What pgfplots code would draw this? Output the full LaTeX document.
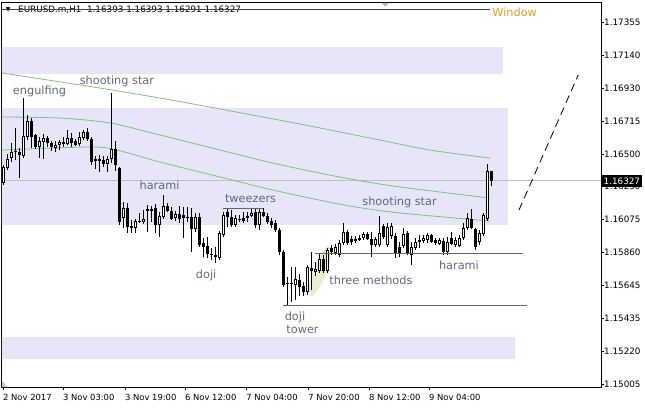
\documentclass[border=0pt]{standalone}
\usepackage{pgfplots}
\pgfplotsset{compat=1.18}
\usepackage{pgfplotstable}
\usepackage{fontspec}
\setmainfont{DejaVu Sans}
\usetikzlibrary{shapes.geometric}

\definecolor{zone}{RGB}{230,230,248}
\definecolor{ma}{RGB}{128,192,128}
\definecolor{lbl}{RGB}{96,104,122}
\definecolor{winline}{RGB}{40,80,72}
\definecolor{wintext}{RGB}{218,160,32}
\definecolor{pline}{RGB}{192,192,192}
\definecolor{lvl}{RGB}{100,100,100}
\definecolor{hilite}{RGB}{232,238,206}

% H1 candles, x = bar index
\pgfplotstableread{
x o h l c
0 1.16313 1.16430 1.16300 1.16417
1 1.16410 1.16501 1.16397 1.16469
2 1.16475 1.16573 1.16449 1.16514
3 1.16521 1.16670 1.16462 1.16514
4 1.16514 1.16540 1.16345 1.16495
5 1.16488 1.16865 1.16475 1.16618
6 1.16612 1.16755 1.16592 1.16716
7 1.16716 1.16735 1.16540 1.16612
8 1.16625 1.16631 1.16534 1.16547
9 1.16547 1.16612 1.16475 1.16586
10 1.16579 1.16631 1.16469 1.16605
11 1.16605 1.16618 1.16547 1.16573
12 1.16573 1.16586 1.16521 1.16547
13 1.16540 1.16586 1.16514 1.16560
14 1.16560 1.16592 1.16527 1.16579
15 1.16579 1.16612 1.16547 1.16566
16 1.16566 1.16657 1.16560 1.16605
17 1.16605 1.16638 1.16547 1.16573
18 1.16586 1.16599 1.16553 1.16560
19 1.16566 1.16644 1.16553 1.16612
20 1.16605 1.16657 1.16592 1.16644
21 1.16644 1.16670 1.16586 1.16599
22 1.16599 1.16612 1.16430 1.16449
23 1.16456 1.16488 1.16404 1.16469
24 1.16469 1.16495 1.16384 1.16456
25 1.16462 1.16488 1.16417 1.16436
26 1.16436 1.16488 1.16384 1.16469
27 1.16469 1.16898 1.16443 1.16534
28 1.16534 1.16586 1.16391 1.16430
29 1.16410 1.16417 1.16040 1.16059
30 1.16085 1.16189 1.16020 1.16150
31 1.16150 1.16183 1.15988 1.16027
32 1.16033 1.16072 1.15988 1.16020
33 1.16020 1.16079 1.15988 1.16066
34 1.16066 1.16118 1.16053 1.16059
35 1.16059 1.16137 1.16046 1.16079
36 1.16144 1.16170 1.15994 1.16131
37 1.16144 1.16163 1.16059 1.16131
38 1.16150 1.16176 1.15988 1.16040
39 1.16040 1.16124 1.15962 1.16098
40 1.16092 1.16235 1.16079 1.16163
41 1.16163 1.16183 1.16124 1.16131
42 1.16131 1.16157 1.16072 1.16079
43 1.16085 1.16131 1.16066 1.16111
44 1.16111 1.16163 1.16053 1.16079
45 1.16105 1.16157 1.15955 1.16085
46 1.16092 1.16157 1.16059 1.16085
47 1.16092 1.16150 1.15864 1.16014
48 1.16014 1.16118 1.15994 1.16092
49 1.16092 1.16118 1.15897 1.15910
50 1.15923 1.15955 1.15832 1.15897
51 1.15903 1.15962 1.15825 1.15851
52 1.15851 1.15890 1.15812 1.15845
53 1.15845 1.15897 1.15793 1.15832
54 1.15825 1.16001 1.15812 1.15988
55 1.15975 1.16124 1.15962 1.16105
56 1.16124 1.16150 1.16027 1.16092
57 1.16092 1.16137 1.16027 1.16040
58 1.16040 1.16105 1.16027 1.16085
59 1.16079 1.16105 1.16059 1.16072
60 1.16085 1.16124 1.16053 1.16066
61 1.16085 1.16124 1.16059 1.16098
62 1.16098 1.16150 1.16092 1.16118
63 1.16124 1.16150 1.16020 1.16040
64 1.16040 1.16150 1.16007 1.16124
65 1.16124 1.16150 1.16092 1.16098
66 1.16098 1.16118 1.16046 1.16059
67 1.16066 1.16085 1.16020 1.16040
68 1.16053 1.16072 1.15994 1.16007
69 1.16007 1.16020 1.15845 1.15864
70 1.15864 1.15877 1.15637 1.15650
71 1.15663 1.15702 1.15520 1.15656
72 1.15656 1.15767 1.15539 1.15663
73 1.15650 1.15767 1.15552 1.15689
74 1.15682 1.15721 1.15578 1.15637
75 1.15643 1.15669 1.15578 1.15604
76 1.15604 1.15780 1.15585 1.15767
77 1.15760 1.15864 1.15617 1.15741
78 1.15734 1.15799 1.15708 1.15754
79 1.15741 1.15858 1.15728 1.15819
80 1.15819 1.15845 1.15728 1.15741
81 1.15741 1.15890 1.15728 1.15877
82 1.15890 1.15910 1.15845 1.15864
83 1.15858 1.15916 1.15845 1.15897
84 1.15845 1.15942 1.15832 1.15923
85 1.15923 1.16053 1.15910 1.15994
86 1.15994 1.16007 1.15910 1.15923
87 1.15949 1.15968 1.15910 1.15929
88 1.15949 1.15968 1.15923 1.15936
89 1.15942 1.15975 1.15936 1.15955
90 1.15955 1.15994 1.15942 1.15981
91 1.15981 1.15994 1.15942 1.15949
92 1.15949 1.15994 1.15832 1.15910
93 1.15910 1.15962 1.15897 1.15949
94 1.15910 1.16098 1.15897 1.15988
95 1.16033 1.16046 1.15949 1.15962
96 1.15910 1.16053 1.15897 1.16027
97 1.15968 1.16053 1.15949 1.16033
98 1.15968 1.15988 1.15825 1.15858
99 1.15897 1.15929 1.15832 1.15858
100 1.15903 1.16020 1.15890 1.15981
101 1.15988 1.16001 1.15845 1.15851
102 1.15845 1.15929 1.15780 1.15897
103 1.15890 1.15955 1.15877 1.15929
104 1.15929 1.15975 1.15890 1.15942
105 1.15936 1.15975 1.15923 1.15955
106 1.15942 1.15988 1.15923 1.15975
107 1.15975 1.15981 1.15923 1.15929
108 1.15942 1.15955 1.15910 1.15923
109 1.15916 1.15955 1.15910 1.15942
110 1.15936 1.15955 1.15845 1.15864
111 1.15864 1.15962 1.15845 1.15929
112 1.15955 1.15994 1.15910 1.15916
113 1.15910 1.15962 1.15897 1.15942
114 1.15903 1.15975 1.15897 1.15955
115 1.15955 1.16053 1.15942 1.16020
116 1.16020 1.16118 1.16007 1.16085
117 1.16079 1.16144 1.16014 1.16020
118 1.16014 1.16020 1.15877 1.15897
119 1.15929 1.16007 1.15910 1.15988
120 1.15981 1.16118 1.15968 1.16105
121 1.16079 1.16436 1.16066 1.16391
122 1.16393 1.16393 1.16291 1.16327
}\candles

% moving averages
\pgfplotstableread{
x y
-0.325 1.17028
24.2 1.16930
39.2 1.16865
54.2 1.16794
74.2 1.16696
94.2 1.16592
106.7 1.16527
121.7 1.16475
}\maone
\pgfplotstableread{
x y
-0.325 1.16742
14.2 1.16735
26.7 1.16703
39.2 1.16625
54.2 1.16527
64.2 1.16462
74.2 1.16404
86.7 1.16339
99.2 1.16287
121.7 1.16215
}\matwo
\pgfplotstableread{
x y
-0.325 1.16527
21.7 1.16547
28.4 1.16527
39.2 1.16449
54.2 1.16352
64.2 1.16287
74.2 1.16228
86.7 1.16163
99.2 1.16118
121.7 1.16066
}\mathree

\begin{document}
\begin{tikzpicture}
\useasboundingbox (-2pt,-20pt) rectangle (643pt,387pt);
\begin{axis}[
  at={(0,0)}, anchor=south west,
  scale only axis, width=599pt, height=384pt,
  xmin=-0.325, xmax=149.4, ymin=1.14987, ymax=1.17483,
  axis line style={black, line width=1pt},
  font=\fontsize{8.4}{10}\selectfont,
  xtick={-0.075,14.9,30.4,45.4,60.7,76.2,91.4,106.4},
  xticklabels={2 Nov 2017,3 Nov 03:00,3 Nov 19:00,6 Nov 12:00,7 Nov 04:00,7 Nov 20:00,8 Nov 12:00,9 Nov 04:00},
  ytick={1.15005,1.15220,1.15435,1.15645,1.15860,1.16075,1.16290,1.16500,1.16715,1.16930,1.17140,1.17355},
  yticklabels={1.15005,1.15220,1.15435,1.15645,1.15860,1.16075,1.16290,1.16500,1.16715,1.16930,1.17140,1.17355},
  xtick pos=bottom, ytick pos=right, yticklabel pos=right,
  tick align=outside, major tick length=3pt,
  tick style={black, line width=0.7pt},
  xticklabel style={anchor=north west, inner sep=0pt, yshift=-4pt},
  yticklabel style={anchor=west, inner sep=0pt, xshift=0pt, font=\fontsize{8.8}{10}\selectfont},
  clip=true,
]
% zones
\fill[zone] (axis cs:-1,1.17021) rectangle (axis cs:124.9,1.17200);
\fill[zone] (axis cs:-1,1.16040) rectangle (axis cs:126.05,1.16803);
\fill[zone] (axis cs:-1,1.15166) rectangle (axis cs:127.9,1.15312);

% current price line
\addplot[pline, line width=0.8pt] coordinates {(-1,1.16327) (150,1.16327)};

% three methods highlight
\node[ellipse, fill=hilite, minimum width=13pt, minimum height=54pt, rotate=-21, inner sep=0pt] at (axis cs:79.2,1.15741) {};

% moving averages
\addplot[ma, line width=0.8pt, smooth] table[x=x, y=y] {\maone};
\addplot[ma, line width=0.8pt, smooth] table[x=x, y=y] {\matwo};
\addplot[ma, line width=0.8pt, smooth] table[x=x, y=y] {\mathree};

% candles: wick, body, hollow inside for rising bars
\pgfplotsforeachungrouped \i in {0,...,122}{%
  \pgfplotstablegetelem{\i}{x}\of\candles\let\cx\pgfplotsretval
  \pgfplotstablegetelem{\i}{o}\of\candles\let\co\pgfplotsretval
  \pgfplotstablegetelem{\i}{h}\of\candles\let\ch\pgfplotsretval
  \pgfplotstablegetelem{\i}{l}\of\candles\let\cl\pgfplotsretval
  \pgfplotstablegetelem{\i}{c}\of\candles\let\cc\pgfplotsretval
  \edef\cmd{\noexpand\addplot[black, line width=1pt, forget plot] coordinates {(\cx,\cl) (\cx,\ch)};%
    \noexpand\addplot[black, line width=3pt, forget plot] coordinates {(\cx,\co) (\cx,\cc)};}%
  \cmd
  \ifdim\dimexpr\cc pt-\co pt\relax>0.00017pt
    \edef\cmd{\noexpand\addplot[white, line width=1pt, shorten <=1pt, shorten >=1pt, forget plot] coordinates {(\cx,\co) (\cx,\cc)};}%
    \cmd
  \fi
}

% levels
\addplot[lvl, line width=1pt] coordinates {(54.9,1.16150) (64.9,1.16150)};
\addplot[lvl, line width=1pt] coordinates {(77.9,1.15858) (129.9,1.15858)};
\addplot[lvl, line width=1pt] coordinates {(69.9,1.15520) (130.9,1.15520)};
\addplot[black, line width=0.8pt, dash pattern=on 8pt off 5pt] coordinates {(128.9,1.16137) (143.7,1.17015)};

% pattern names
\begin{scope}[every node/.style={text=lbl, font=\fontsize{11.3}{13}\selectfont, inner sep=0pt}]
\node at (axis cs:9.05,1.16911) {engulfing};
\node at (axis cs:28.4,1.16976) {shooting star};
\node at (axis cs:39.05,1.16300) {harami};
\node at (axis cs:61.8,1.16209) {tweezers};
\node at (axis cs:50.7,1.15715) {doji};
\node at (axis cs:91.9,1.15682) {three methods};
\node at (axis cs:113.9,1.15780) {harami};
\node at (axis cs:72.9,1.15442) {doji};
\node at (axis cs:74.8,1.15357) {tower};
\node at (axis cs:99.05,1.16189) {shooting star};
\end{scope}

% header and window line
\node[anchor=west, inner sep=0pt, font=\fontsize{6}{7}\selectfont] at (axis cs:0.6,1.17440) {▼};
\node[anchor=west, inner sep=0pt, font=\fontsize{8.8}{10}\selectfont] at (axis cs:3.675,1.17437) {EURUSD.m,H1\ \ 1.16393 1.16393 1.16291 1.16327};
\addplot[winline, line width=1pt] coordinates {(-1,1.17440) (121.7,1.17440)};
\node[anchor=west, inner sep=0pt, text=wintext, font=\fontsize{11.3}{13}\selectfont] at (axis cs:122.2,1.17424) {Window};

% small markers
\fill[gray!55] (axis cs:94.6,1.17483) -- ++(7pt,0pt) -- ++(-3.5pt,-4pt) -- cycle;
\fill[gray!45] (rel axis cs:0,0) -- ++(6pt,0pt) -- ++(-6pt,6pt) -- cycle;

\coordinate (cp) at (axis cs:149.4,1.16327);
\end{axis}
\node[anchor=west, fill=black, text=white, inner xsep=1.5pt, inner ysep=0pt, minimum height=12pt,
  font=\fontsize{8.8}{10}\selectfont] at ([xshift=1pt]cp) {1.16327};
\end{tikzpicture}
\end{document}
